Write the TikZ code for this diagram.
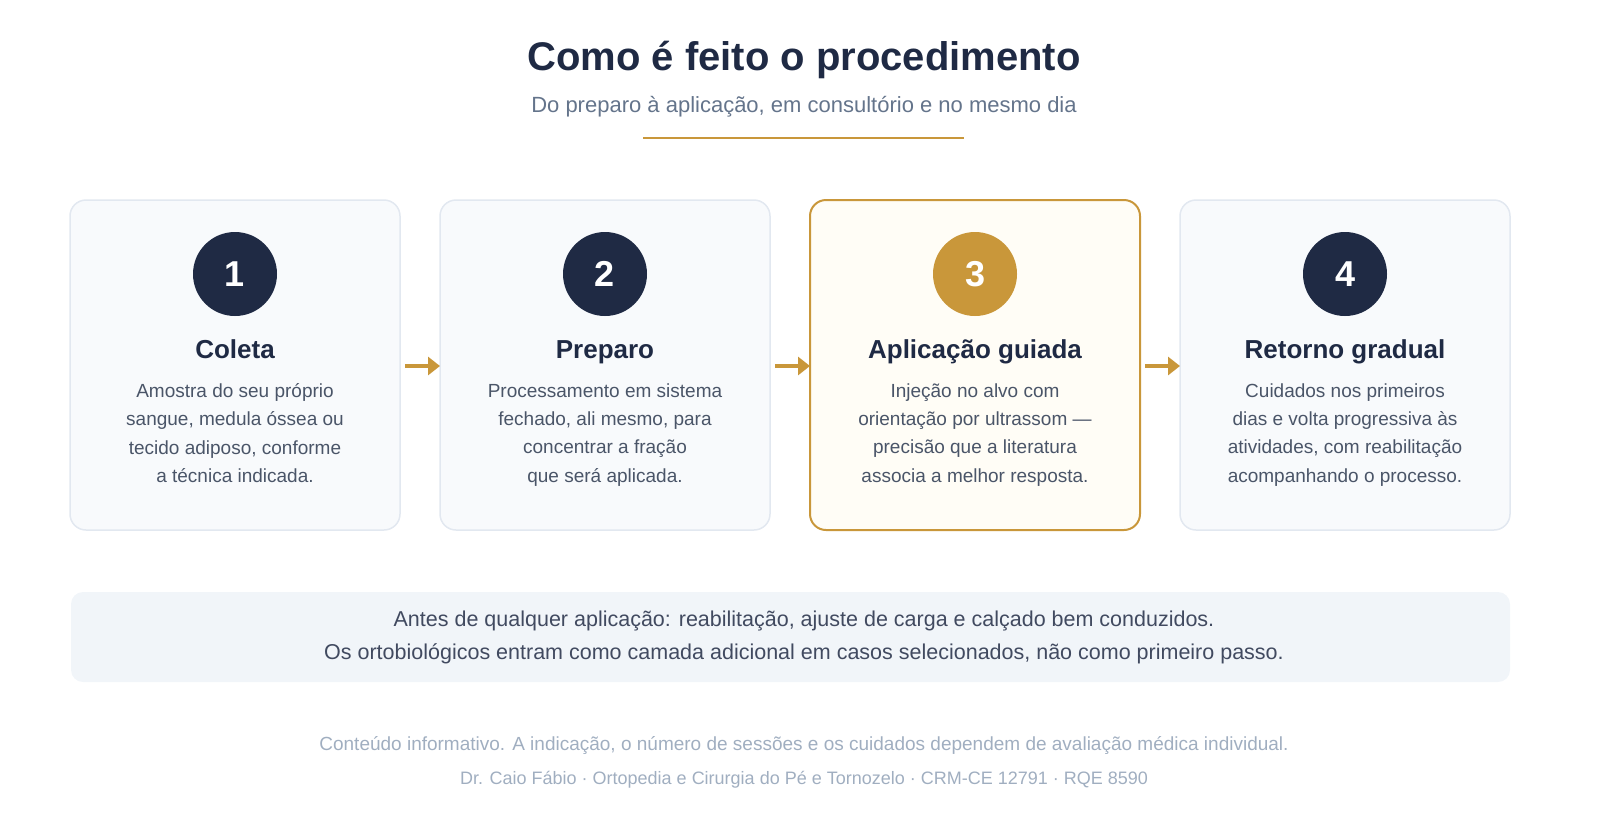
\documentclass[tikz,border=0pt]{standalone}
\usepackage{fontspec}
\setmainfont{Liberation Sans}
\usetikzlibrary{arrows.meta}
\definecolor{navy}{HTML}{1F2A44}
\definecolor{gold}{HTML}{C9973A}
\definecolor{cardfill}{HTML}{F8FAFC}
\definecolor{cardline}{HTML}{E2E8F0}
\definecolor{hifill}{HTML}{FFFDF6}
\definecolor{boxfill}{HTML}{F1F5F9}
\definecolor{body}{HTML}{4A5568}
\definecolor{sub}{HTML}{64748B}
\definecolor{foot}{HTML}{A0AEC0}
\begin{document}
\begin{tikzpicture}[x=1pt,y=-1pt,
 card/.style={draw=cardline,fill=cardfill,line width=1.5pt,rounded corners=16pt},
 hicard/.style={draw=gold,fill=hifill,line width=2pt,rounded corners=16pt},
 num/.style={circle,minimum size=84pt,inner sep=0pt,text=white,font=\fontsize{36}{40}\selectfont\bfseries},
 ttl/.style={text=navy,anchor=base,font=\fontsize{26}{30}\selectfont\bfseries},
 txt/.style={text=body,align=center,font=\fontsize{19}{28.3}\selectfont},
 arr/.style={draw=gold,line width=4pt,-{Triangle[length=12pt,width=18pt]}}]
\useasboundingbox (0,0) rectangle (1600,820);
\node[text=navy,font=\fontsize{40}{46}\selectfont\bfseries] (title) at (804,60) {Como é feito o procedimento};
\node[text=sub,font=\fontsize{22}{26}\selectfont] (subt) at (804,107) {Do preparo à aplicação, em consultório e no mesmo dia};
\draw[gold,line width=2.5pt] (643,138) coordinate (l1) -- (964,138) coordinate (l2);
\foreach \i/\x/\st/\cc/\t/\b in {
 1/70/card/navy/Coleta/{Amostra do seu próprio\\sangue, medula óssea ou\\tecido adiposo, conforme\\a técnica indicada.},
 2/440/card/navy/Preparo/{Processamento em sistema\\fechado, ali mesmo, para\\concentrar a fração\\que será aplicada.},
 3/810/hicard/gold/Aplicação guiada/{Injeção no alvo com\\orientação por ultrassom —\\precisão que a literatura\\associa a melhor resposta.},
 4/1180/card/navy/Retorno gradual/{Cuidados nos primeiros\\dias e volta progressiva às\\atividades, com reabilitação\\acompanhando o processo.}}{
 \draw[\st] (\x,200) rectangle (\x+330,530);
 \coordinate (c\i l) at (\x,366);
 \coordinate (c\i r) at (\x+330,366);
 \node[num,fill=\cc] (n\i) at (\x+165,274) {\i};
 \node[ttl] (t\i) at (\x+165,358) {\t};
 \node[txt,anchor=north] (b\i) at (\x+165,380) {\b};
}
\draw[arr] ([xshift=5pt]c1r) -- (c2l);
\draw[arr] ([xshift=5pt]c2r) -- (c3l);
\draw[arr] ([xshift=5pt]c3r) -- (c4l);
\fill[boxfill,rounded corners=12pt] (71,592) rectangle (1510,682);
\node[text=navy!85,align=center,font=\fontsize{21.5}{33}\selectfont] (note) at (804,637) {Antes de qualquer aplicação: reabilitação, ajuste de carga e calçado bem conduzidos.\\Os ortobiológicos entram como camada adicional em casos selecionados, não como primeiro passo.};
\node[text=foot,font=\fontsize{19}{22}\selectfont] (f1) at (804,746) {Conteúdo informativo. A indicação, o número de sessões e os cuidados dependem de avaliação médica individual.};
\node[text=foot,font=\fontsize{18}{21}\selectfont] (f2) at (804,780) {Dr. Caio Fábio · Ortopedia e Cirurgia do Pé e Tornozelo · CRM-CE 12791 · RQE 8590};
\end{tikzpicture}
\end{document}
